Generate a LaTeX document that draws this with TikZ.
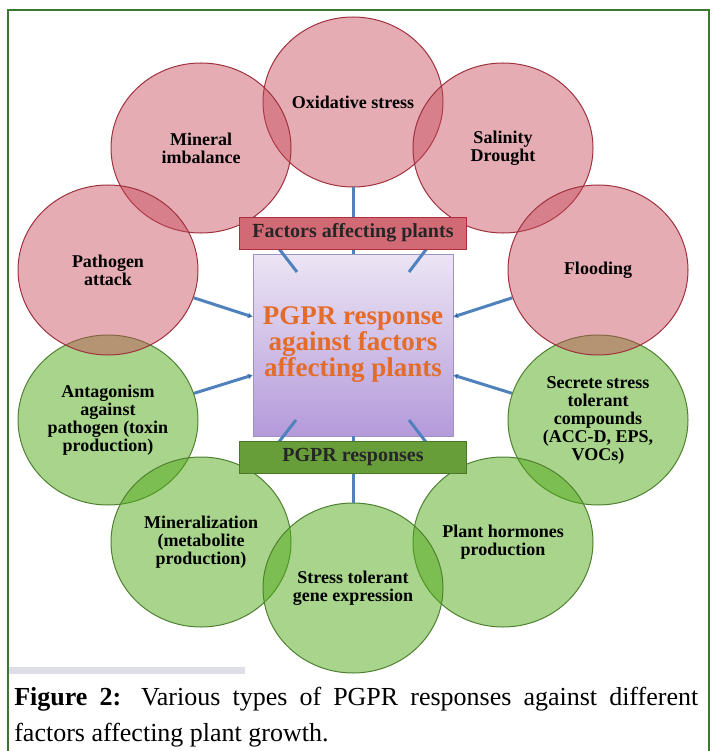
\documentclass[tikz,border=0pt]{standalone}
\usepackage{fontspec}
\setmainfont{Liberation Serif}
\usetikzlibrary{shapes.geometric,arrows.meta}
\definecolor{facred}{RGB}{197,71,88}
\definecolor{facline}{RGB}{160,50,62}
\definecolor{resgreen}{RGB}{81,169,25}
\definecolor{resline}{RGB}{78,130,48}
\definecolor{linkblue}{RGB}{79,129,189}
\definecolor{boxred}{RGB}{209,106,116}
\definecolor{boxredline}{RGB}{175,45,60}
\definecolor{boxgreen}{RGB}{104,158,58}
\definecolor{boxgreenline}{RGB}{75,120,40}
\definecolor{midtop}{RGB}{236,229,244}
\definecolor{midbot}{RGB}{180,154,218}
\definecolor{midline}{RGB}{160,145,195}
\definecolor{midtext}{RGB}{228,108,42}
\definecolor{framegreen}{RGB}{60,120,50}
\definecolor{stripgrey}{RGB}{222,222,230}
\begin{document}
\begin{tikzpicture}[x=1pt, y=-1pt, auto, semithick,
  ring/.style = {ellipse, line width=1pt, minimum width=180pt, minimum height=170pt, inner sep=0pt, align=center, text opacity=1, font=\bfseries\fontsize{18}{18}\selectfont},
  fac/.style = {ring, draw=facline, fill=facred, fill opacity=0.45},
  res/.style = {ring, draw=resline, fill=resgreen, fill opacity=0.5},
  bar/.style = {line width=1pt, minimum width=227pt, minimum height=32pt, inner sep=0pt, font=\bfseries\fontsize{20}{20}\selectfont},
  link/.style = {draw=linkblue, line width=3pt},
  linktip/.style = {link, -{Latex[length=5pt,width=6pt]}}]
\useasboundingbox (0,0) rectangle (711,751);
\draw[framegreen, line width=2pt] (8,752) -- (8,10) -- (709,10) -- (709,752);
\fill[stripgrey] (9,667) rectangle (245,674);
\node[res] (6) at (108,420) {Antagonism\\against\\pathogen (toxin\\production)};
\node[res] (7) [right of=6, node distance=490pt] {Secrete stress\\tolerant\\compounds\\(ACC-D, EPS,\\VOCs)};
\node[res] (8) at (201,542) {Mineralization\\(metabolite\\production)};
\node[res] (9) [right of=8, node distance=302pt] {Plant hormones\\production};
\node[res] (10) at (353,588) {Stress tolerant\\gene expression};
\node[fac] (1) at (353,102) {Oxidative stress};
\node[fac] (2) at (201,148) {Mineral\\imbalance};
\node[fac] (3) [right of=2, node distance=302pt] {Salinity\\Drought};
\node[fac] (4) at (108,270) {Pathogen\\attack};
\node[fac] (5) [right of=4, node distance=490pt] {Flooding};
\node[draw=midline, top color=midtop, bottom color=midbot, minimum width=200pt, minimum height=182pt, inner sep=0pt, align=center, text=midtext, font=\bfseries\fontsize{27}{26}\selectfont] (11) at (353,345) {PGPR response\\against factors\\affecting plants};
\coordinate (a1) at (297,272);
\coordinate (a2) at (409,272);
\coordinate (a3) at (253,317);
\coordinate (a4) at (453,317);
\coordinate (a5) at (253,375);
\coordinate (a6) at (453,375);
\coordinate (a7) at (296,420);
\coordinate (a8) at (409,420);
\path [link] (1) edge (11);
\path [link] (10) edge (11);
\path [link] (2) edge (a1);
\path [link] (3) edge (a2);
\path [link] (8) edge (a7);
\path [link] (9) edge (a8);
\path [linktip] (4) edge (a3);
\path [linktip] (5) edge (a4);
\path [linktip] (6) edge (a5);
\path [linktip] (7) edge (a6);
\node[bar, draw=boxredline, fill=boxred, text=black!85] (12) [above of=11, node distance=112pt] {Factors affecting plants};
\node[bar, draw=boxgreenline, fill=boxgreen, text=black!85] (13) [below of=11, node distance=112pt] {PGPR responses};
\node[anchor=north west, text width=684pt, align=justify, inner sep=0pt, font=\fontsize{26}{36}\selectfont] (14) at (14,687) {\textbf{Figure 2:} Various types of PGPR responses against different\linebreak factors affecting plant growth.};
\end{tikzpicture}
\end{document}
